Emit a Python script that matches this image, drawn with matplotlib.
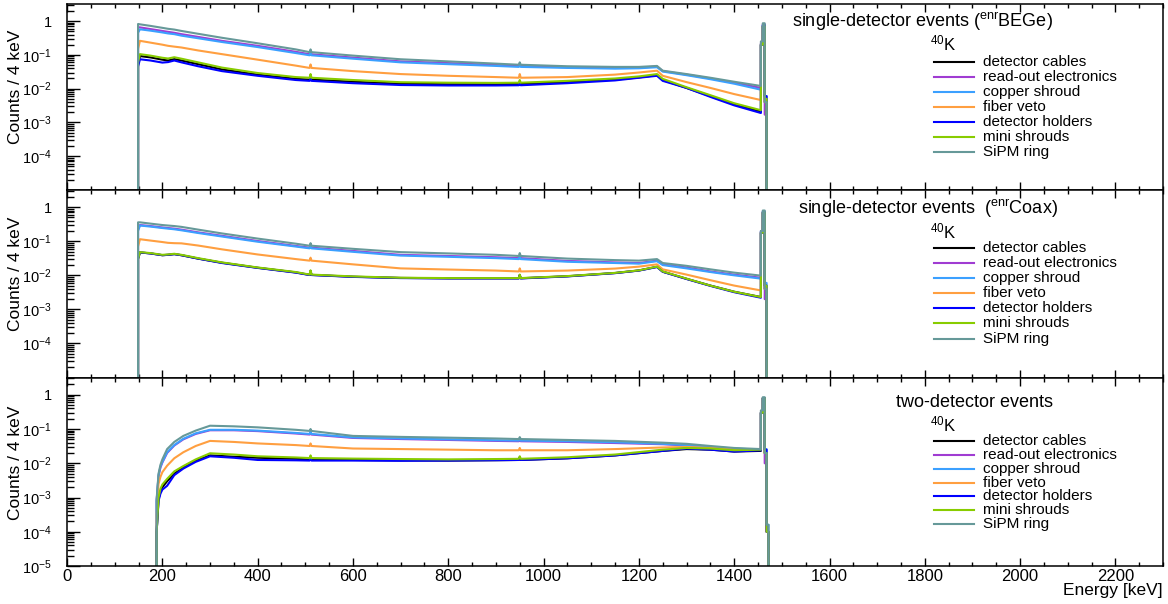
import matplotlib
matplotlib.use("Agg")
import matplotlib.pyplot as plt
from matplotlib.ticker import MultipleLocator, LogLocator, NullFormatter

plt.rcParams["font.family"] = ["Liberation Sans", "DejaVu Sans"]
plt.rcParams["mathtext.default"] = "regular"

energy_single = [149, 153, 175, 200, 212, 225, 240, 275, 325, 400,
                 480, 509, 511, 513, 600, 700, 800, 900, 948, 950,
                 952, 1050, 1150, 1200, 1238, 1250, 1300, 1350, 1400, 1456]
energy_two = [188, 192, 196, 200, 210, 225, 244, 270, 300, 350,
              400, 480, 509, 511, 513, 600, 700, 800, 900, 948,
              950, 952, 1050, 1150, 1250, 1300, 1350, 1400, 1456]
# 4 keV bins around the 1460 keV line (values appended after the continuum)
peak_edges_single = [1456, 1460, 1464, 1468]
peak_edges_two = [1456, 1460, 1464, 1468, 1472]

components = ["detector cables", "read-out electronics", "copper shroud", "fiber veto",
              "detector holders", "mini shrouds", "SiPM ring"]
colors = ["#000000", "#a03cd2", "#3ba0ff", "#ff9f40", "#0000ff", "#88cc00", "#669999"]

# single-detector events, enrBEGe
bege_cables = [0.05, 0.092, 0.084, 0.072, 0.068, 0.075, 0.068, 0.053, 0.037, 0.026,
               0.0195, 0.0185, 0.022, 0.0185, 0.016, 0.014, 0.0135, 0.0135, 0.0138, 0.016,
               0.0138, 0.0157, 0.0185, 0.0215, 0.025, 0.018, 0.0105, 0.006, 0.0034, 0.0021,
               0.2, 0.7, 0.004]
bege_readout = [0.66, 0.65, 0.58, 0.51, 0.48, 0.45, 0.41, 0.34, 0.26, 0.185,
                0.123, 0.104, 0.125, 0.104, 0.083, 0.064, 0.057, 0.05, 0.047, 0.055,
                0.047, 0.043, 0.041, 0.042, 0.045, 0.033, 0.026, 0.02, 0.015, 0.0105,
                0.22, 0.8, 0.0017]
bege_copper = [0.45, 0.57, 0.52, 0.46, 0.43, 0.41, 0.37, 0.31, 0.24, 0.17,
               0.113, 0.097, 0.115, 0.097, 0.077, 0.060, 0.053, 0.047, 0.044, 0.052,
               0.044, 0.041, 0.039, 0.040, 0.043, 0.032, 0.025, 0.019, 0.014, 0.0093,
               0.2, 0.75, 0.006]
bege_fiber = [0.15, 0.26, 0.23, 0.2, 0.185, 0.175, 0.165, 0.135, 0.105, 0.072,
              0.048, 0.041, 0.052, 0.041, 0.033, 0.027, 0.024, 0.022, 0.021, 0.027,
              0.021, 0.022, 0.026, 0.03, 0.034, 0.024, 0.0156, 0.0105, 0.0069, 0.0046,
              0.2, 0.7, 0.004]
bege_holders = [0.045, 0.074, 0.068, 0.059, 0.061, 0.068, 0.06, 0.046, 0.033, 0.024,
                0.018, 0.017, 0.02, 0.017, 0.0145, 0.0128, 0.0124, 0.0124, 0.0126, 0.015,
                0.0126, 0.0145, 0.0175, 0.021, 0.024, 0.017, 0.0105, 0.0057, 0.0032, 0.0019,
                0.2, 0.75, 0.006]
bege_mini = [0.06, 0.105, 0.095, 0.082, 0.078, 0.085, 0.077, 0.06, 0.042, 0.029,
             0.022, 0.021, 0.027, 0.021, 0.018, 0.0155, 0.015, 0.0148, 0.015, 0.018,
             0.015, 0.017, 0.02, 0.023, 0.027, 0.0195, 0.011, 0.0064, 0.0037, 0.0023,
             0.2, 0.7, 0.005]
bege_sipm = [0.82, 0.80, 0.72, 0.63, 0.59, 0.56, 0.51, 0.42, 0.32, 0.22,
             0.145, 0.12, 0.145, 0.12, 0.095, 0.074, 0.064, 0.055, 0.051, 0.06,
             0.051, 0.046, 0.044, 0.044, 0.047, 0.034, 0.027, 0.021, 0.016, 0.012,
             0.25, 0.86, 0.004]

# single-detector events, enrCoax
coax_cables = [0.03, 0.047, 0.044, 0.039, 0.040, 0.042, 0.039, 0.031, 0.0235, 0.0167,
               0.0122, 0.0103, 0.0135, 0.0103, 0.0091, 0.0084, 0.0082, 0.0082, 0.0082, 0.0103,
               0.0082, 0.0094, 0.0117, 0.0139, 0.0178, 0.0128, 0.0079, 0.005, 0.0033, 0.0023,
               0.18, 0.7, 0.004]
coax_readout = [0.22, 0.30, 0.28, 0.255, 0.245, 0.235, 0.22, 0.183, 0.145, 0.102,
                0.073, 0.065, 0.078, 0.065, 0.052, 0.04, 0.037, 0.034, 0.032, 0.038,
                0.032, 0.0265, 0.024, 0.023, 0.027, 0.021, 0.017, 0.013, 0.0105, 0.0085,
                0.2, 0.75, 0.002]
coax_copper = [0.2, 0.29, 0.27, 0.245, 0.235, 0.225, 0.21, 0.175, 0.138, 0.097,
               0.07, 0.062, 0.075, 0.062, 0.049, 0.038, 0.035, 0.032, 0.030, 0.036,
               0.030, 0.025, 0.023, 0.022, 0.026, 0.02, 0.016, 0.0125, 0.01, 0.008,
               0.2, 0.75, 0.006]
coax_fiber = [0.07, 0.115, 0.105, 0.095, 0.09, 0.088, 0.087, 0.075, 0.058, 0.041,
              0.03, 0.027, 0.033, 0.027, 0.021, 0.016, 0.0148, 0.0138, 0.013, 0.016,
              0.013, 0.0138, 0.0158, 0.018, 0.021, 0.015, 0.0105, 0.0072, 0.005, 0.0036,
              0.18, 0.7, 0.004]
coax_holders = [0.032, 0.047, 0.044, 0.039, 0.040, 0.042, 0.039, 0.031, 0.023, 0.0165,
                0.012, 0.0102, 0.0135, 0.0102, 0.009, 0.0083, 0.0081, 0.0081, 0.0081, 0.0102,
                0.0081, 0.0093, 0.0116, 0.0138, 0.0175, 0.0127, 0.0078, 0.0049, 0.0032, 0.0022,
                0.18, 0.7, 0.005]
coax_mini = [0.03, 0.048, 0.045, 0.040, 0.041, 0.043, 0.040, 0.032, 0.024, 0.017,
             0.0125, 0.0105, 0.014, 0.0105, 0.0093, 0.0085, 0.0083, 0.0083, 0.0083, 0.0105,
             0.0083, 0.0095, 0.0118, 0.014, 0.018, 0.013, 0.008, 0.005, 0.0033, 0.0023,
             0.18, 0.7, 0.005]
coax_sipm = [0.36, 0.36, 0.33, 0.30, 0.29, 0.28, 0.265, 0.22, 0.17, 0.12,
             0.085, 0.074, 0.088, 0.074, 0.06, 0.048, 0.044, 0.040, 0.037, 0.045,
             0.037, 0.031, 0.028, 0.027, 0.03, 0.023, 0.019, 0.015, 0.012, 0.0098,
             0.2, 0.8, 0.004]

# two-detector events
two_cables = [0.0001, 0.0009, 0.0015, 0.002, 0.003, 0.005, 0.0075, 0.012, 0.017, 0.0155,
              0.0145, 0.0135, 0.013, 0.0155, 0.013, 0.0125, 0.0122, 0.012, 0.0123, 0.0125,
              0.015, 0.0125, 0.014, 0.017, 0.023, 0.026, 0.025, 0.022, 0.023,
              0.3, 0.8, 0.02, 0.0001]
two_readout = [0.0008, 0.0042, 0.0075, 0.0105, 0.02, 0.033, 0.05, 0.072, 0.092, 0.092,
               0.087, 0.074, 0.069, 0.079, 0.069, 0.055, 0.051, 0.048, 0.045, 0.044,
               0.05, 0.044, 0.042, 0.039, 0.036, 0.033, 0.029, 0.026, 0.025,
               0.3, 0.8, 0.01, 0.0001]
two_copper = [0.0008, 0.0045, 0.008, 0.011, 0.021, 0.034, 0.052, 0.075, 0.095, 0.095,
              0.09, 0.077, 0.072, 0.082, 0.072, 0.057, 0.053, 0.05, 0.047, 0.046,
              0.052, 0.046, 0.044, 0.041, 0.037, 0.034, 0.03, 0.027, 0.025,
              0.3, 0.8, 0.026, 0.00016]
two_fiber = [0.0003, 0.0025, 0.004, 0.0055, 0.0085, 0.014, 0.021, 0.032, 0.045, 0.042,
             0.038, 0.034, 0.032, 0.038, 0.032, 0.027, 0.026, 0.025, 0.024, 0.024,
             0.028, 0.024, 0.024, 0.026, 0.029, 0.03, 0.028, 0.026, 0.025,
             0.3, 0.8, 0.02, 0.0001]
two_holders = [0.0001, 0.0008, 0.0013, 0.0017, 0.0022, 0.0045, 0.007, 0.011, 0.016, 0.0145,
               0.0125, 0.0122, 0.012, 0.0145, 0.012, 0.012, 0.0118, 0.012, 0.0123, 0.0125,
               0.015, 0.0125, 0.014, 0.017, 0.023, 0.027, 0.025, 0.022, 0.024,
               0.3, 0.8, 0.025, 0.0001]
two_mini = [0.0001, 0.001, 0.0018, 0.0024, 0.0035, 0.0058, 0.0083, 0.013, 0.0196, 0.018,
            0.016, 0.0148, 0.0142, 0.017, 0.0142, 0.0137, 0.0133, 0.013, 0.0133, 0.0135,
            0.016, 0.0135, 0.015, 0.018, 0.025, 0.028, 0.027, 0.024, 0.025,
            0.3, 0.8, 0.02, 0.0001]
two_sipm = [0.0009, 0.005, 0.009, 0.013, 0.026, 0.042, 0.063, 0.09, 0.125, 0.12,
            0.112, 0.095, 0.088, 0.1, 0.088, 0.063, 0.059, 0.056, 0.053, 0.051,
            0.058, 0.051, 0.048, 0.045, 0.04, 0.037, 0.032, 0.028, 0.026,
            0.35, 0.85, 0.02, 0.00016]

ytick_vals = [1e-5, 1e-4, 1e-3, 1e-2, 1e-1, 1]
ytick_text = ["$10^{-5}$", "$10^{-4}$", "$10^{-3}$", "$10^{-2}$", "$10^{-1}$", "1"]
xtick_vals = list(range(0, 2201, 200))

FLOOR = 1e-9  # empty bins go below the axis


def spectrum_xy(energy, peak_edges, vals):
    """Continuum as a polyline, the 1460 keV line as 4 keV steps, edges dropped to the floor."""
    n = len(energy)
    xs = [energy[0]] + list(energy)
    ys = [FLOOR] + list(vals[:n])
    for lo, hi, v in zip(peak_edges[:-1], peak_edges[1:], vals[n:]):
        xs += [lo, hi]
        ys += [v, v]
    xs.append(peak_edges[-1])
    ys.append(FLOOR)
    return xs, ys


def draw_panel(ax, energy, peak_edges, spectra, title, title_x, lay, bottom=False):
    for vals, c in zip(spectra, colors):
        xs, ys = spectrum_xy(energy, peak_edges, vals)
        ax.plot(xs, ys, color=c, lw=1.5)

    ax.set_yscale("log")
    ax.set_xlim(0, 2300)
    ax.set_ylim(1e-5, 3.2)

    ax.set_yticks(ytick_vals)
    labels = list(ytick_text) if bottom else [""] + ytick_text[1:]
    ax.set_yticklabels(labels)
    ax.yaxis.set_minor_locator(LogLocator(base=10, subs=range(2, 10)))
    ax.yaxis.set_minor_formatter(NullFormatter())
    ax.set_xticks(xtick_vals)
    ax.xaxis.set_minor_locator(MultipleLocator(50))

    ax.tick_params(axis="x", which="both", direction="in", top=True, bottom=True,
                   labelbottom=bottom, labelsize=12, pad=2, width=1.0)
    ax.tick_params(axis="x", which="major", length=6)
    ax.tick_params(axis="x", which="minor", length=3)
    ax.tick_params(axis="y", which="both", direction="in", left=True, right=False,
                   labelsize=10.5, pad=11, width=1.0)
    ax.tick_params(axis="y", which="major", length=9)
    ax.tick_params(axis="y", which="minor", length=5)
    for sp in ax.spines.values():
        sp.set_linewidth(1.1)

    ax.text(-0.0468, lay["ylabel_y"], "Counts / 4 keV", rotation=90, ha="center", va="top",
            fontsize=12.5, transform=ax.transAxes)

    ax.text(title_x, lay["title_y"], title, ha="right", va="baseline", fontsize=13,
            transform=ax.transAxes)
    ax.text(0.787, lay["k_y"], "$^{40}$K", ha="left", va="baseline", fontsize=12,
            transform=ax.transAxes)

    # legend drawn by hand to match the tight ROOT spacing
    for i, (name, c) in enumerate(zip(components, colors)):
        y = lay["leg_y"] - i * lay["leg_step"]
        ax.plot([0.791, 0.8276], [y, y], color=c, lw=1.5, transform=ax.transAxes)
        ax.text(0.836, y, name, ha="left", va="center", fontsize=11, transform=ax.transAxes)


fig = plt.figure(figsize=(11.68, 6.04), dpi=100)
left, width = 0.0574, 0.9384
ax_top = fig.add_axes([left, 0.6854, width, 0.3080])
ax_mid = fig.add_axes([left, 0.3750, width, 0.3104])
ax_bot = fig.add_axes([left, 0.0629, width, 0.3121])

draw_panel(ax_top, energy_single, peak_edges_single,
           [bege_cables, bege_readout, bege_copper, bege_fiber, bege_holders, bege_mini, bege_sipm],
           "single-detector events ($^{enr}$BEGe)", 0.8996,
           dict(ylabel_y=0.86, title_y=0.874, k_y=0.75, leg_y=0.690, leg_step=0.0806))
draw_panel(ax_mid, energy_single, peak_edges_single,
           [coax_cables, coax_readout, coax_copper, coax_fiber, coax_holders, coax_mini, coax_sipm],
           "single-detector events  ($^{enr}$Coax)", 0.904,
           dict(ylabel_y=0.86, title_y=0.870, k_y=0.744, leg_y=0.691, leg_step=0.0805))
draw_panel(ax_bot, energy_two, peak_edges_two,
           [two_cables, two_readout, two_copper, two_fiber, two_holders, two_mini, two_sipm],
           "two-detector events", 0.8996,
           dict(ylabel_y=0.85, title_y=0.845, k_y=0.712, leg_y=0.663, leg_step=0.0735),
           bottom=True)

ax_bot.set_xticklabels([str(v) for v in xtick_vals])
ax_bot.text(1.0, -0.088, "Energy [keV]", ha="right", va="top", fontsize=12.5,
            transform=ax_bot.transAxes)

fig.savefig("out.png", dpi=100)
